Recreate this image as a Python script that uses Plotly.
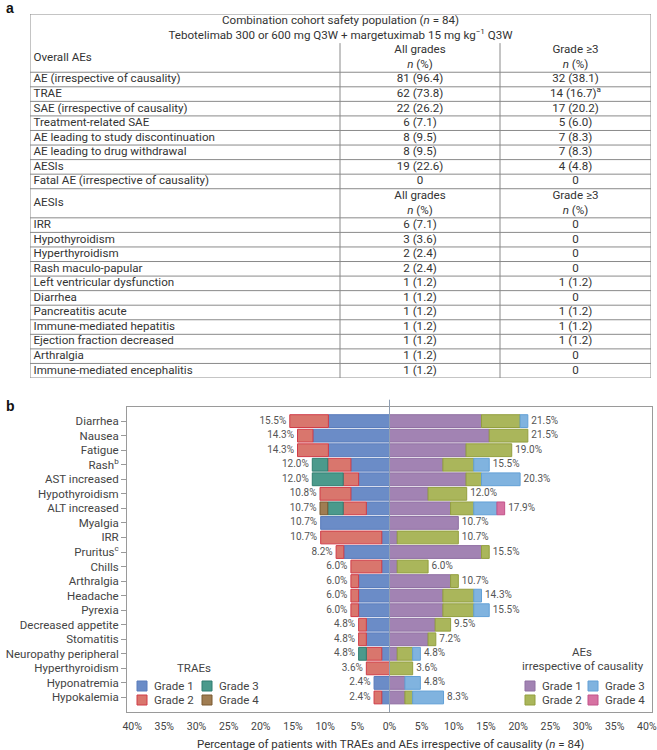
import plotly.graph_objects as go

# ---------------- Table data (panel a) ----------------
table_title = ("Combination cohort safety population (<i>n</i> = 84)<br>"
               "Tebotelimab 300 or 600 mg Q3W + margetuximab 15 mg kg<sup>−1</sup> Q3W")
col_header_all = "All grades<br><i>n</i> (%)"
col_header_g3 = "Grade ≥3<br><i>n</i> (%)"

overall_header = "Overall AEs"
overall_labels = ["AE (irrespective of causality)", "TRAE", "SAE (irrespective of causality)",
                  "Treatment-related SAE", "AE leading to study discontinuation",
                  "AE leading to drug withdrawal", "AESIs", "Fatal AE (irrespective of causality)"]
overall_all = ["81 (96.4)", "62 (73.8)", "22 (26.2)", "6 (7.1)", "8 (9.5)", "8 (9.5)", "19 (22.6)", "0"]
overall_g3 = ["32 (38.1)", "14 (16.7)<sup>a</sup>", "17 (20.2)", "5 (6.0)", "7 (8.3)", "7 (8.3)", "4 (4.8)", "0"]

aesi_header = "AESIs"
aesi_labels = ["IRR", "Hypothyroidism", "Hyperthyroidism", "Rash maculo-papular",
               "Left ventricular dysfunction", "Diarrhea", "Pancreatitis acute",
               "Immune-mediated hepatitis", "Ejection fraction decreased", "Arthralgia",
               "Immune-mediated encephalitis"]
aesi_all = ["6 (7.1)", "3 (3.6)", "2 (2.4)", "2 (2.4)", "1 (1.2)", "1 (1.2)", "1 (1.2)",
            "1 (1.2)", "1 (1.2)", "1 (1.2)", "1 (1.2)"]
aesi_g3 = ["0", "0", "0", "0", "1 (1.2)", "0", "1 (1.2)", "1 (1.2)", "1 (1.2)", "0", "0"]

# ---------------- Chart data (panel b) ----------------
categories = ["Diarrhea", "Nausea", "Fatigue", "Rash<sup>b</sup>", "AST increased", "Hypothyroidism",
              "ALT increased", "Myalgia", "IRR", "Pruritus<sup>c</sup>", "Chills", "Arthralgia",
              "Headache", "Pyrexia", "Decreased appetite", "Stomatitis", "Neuropathy peripheral",
              "Hyperthyroidism", "Hyponatremia", "Hypokalemia"]

trae_g1 = [9.5, 11.9, 9.5, 6.0, 4.8, 6.0, 3.6, 10.7, 1.2, 7.1, 1.2, 4.8, 4.8, 4.8, 3.6, 3.6, 1.2, 0, 2.4, 1.2]
trae_g2 = [6.0, 2.4, 4.8, 3.6, 2.4, 4.8, 3.6, 0, 9.5, 1.2, 4.8, 1.2, 1.2, 1.2, 1.2, 1.2, 2.4, 3.6, 0, 1.2]
trae_g3 = [0, 0, 0, 2.4, 4.8, 0, 2.4, 0, 0, 0, 0, 0, 0, 0, 0, 0, 1.2, 0, 0, 0]
trae_g4 = [0, 0, 0, 0, 0, 0, 1.2, 0, 0, 0, 0, 0, 0, 0, 0, 0, 0, 0, 0, 0]
trae_labels = ["15.5%", "14.3%", "14.3%", "12.0%", "12.0%", "10.8%", "10.7%", "10.7%", "10.7%", "8.2%",
               "6.0%", "6.0%", "6.0%", "6.0%", "4.8%", "4.8%", "4.8%", "3.6%", "2.4%", "2.4%"]

ae_g1 = [14.3, 15.5, 11.9, 8.3, 11.9, 6.0, 9.5, 10.7, 1.2, 14.3, 1.2, 9.5, 8.3, 8.3, 7.1, 6.0, 1.2, 0, 2.4, 2.4]
ae_g2 = [6.0, 6.0, 7.1, 4.8, 2.4, 6.0, 3.6, 0, 9.5, 1.2, 4.8, 1.2, 4.8, 4.8, 2.4, 1.2, 2.4, 3.6, 0, 1.2]
ae_g3 = [1.2, 0, 0, 2.4, 6.0, 0, 3.6, 0, 0, 0, 0, 0, 1.2, 2.4, 0, 0, 1.2, 0, 2.4, 4.8]
ae_g4 = [0, 0, 0, 0, 0, 0, 1.2, 0, 0, 0, 0, 0, 0, 0, 0, 0, 0, 0, 0, 0]
ae_labels = ["21.5%", "21.5%", "19.0%", "15.5%", "20.3%", "12.0%", "17.9%", "10.7%", "10.7%", "15.5%",
             "6.0%", "10.7%", "14.3%", "15.5%", "9.5%", "7.2%", "4.8%", "3.6%", "4.8%", "8.3%"]

x_tick_values = [-40, -35, -30, -25, -20, -15, -10, -5, 0, 5, 10, 15, 20, 25, 30, 35, 40]
x_tick_labels = ["40%", "35%", "30%", "25%", "20%", "15%", "10%", "5%", "0%", "5%", "10%",
                 "15%", "20%", "25%", "30%", "35%", "40%"]
grade_names = ["Grade 1", "Grade 2", "Grade 3", "Grade 4"]

# ---------------- Styles ----------------
W, H = 657, 750
FONT = "Roboto"
TXT = "#333333"
trae_fill = ["#6b8cc7", "#d9766d", "#4b9a8c", "#a07d52"]
trae_line = ["#5a7cbc", "#d03c48", "#2f7d70", "#7a5a30"]
ae_fill = ["#a283b3", "#aab65b", "#80b3df", "#d672a2"]
ae_line = ["#9070a3", "#939f3f", "#62a0d6", "#c2528a"]


def px(x):
    return x / W


def py(y):
    return 1 - y / H


fig = go.Figure()

# ---------------- Table (drawn on its own axes) ----------------
row_heights = [2, 2] + [1] * len(overall_labels) + [2] + [1] * len(aesi_labels)
tops = [0]
for h in row_heights:
    tops.append(tops[-1] + h)
centers = [(tops[i] + tops[i + 1]) / 2 for i in range(len(row_heights))]
TW = 621
COL1, COL2 = 310, 470

lab_y = [centers[1]] + centers[2:2 + len(overall_labels)] + [centers[2 + len(overall_labels)]] + \
        centers[3 + len(overall_labels):]
lab_txt = [overall_header] + overall_labels + [aesi_header] + aesi_labels
all_txt = [col_header_all] + overall_all + [col_header_all] + aesi_all
g3_txt = [col_header_g3] + overall_g3 + [col_header_g3] + aesi_g3

tfont = dict(family=FONT, size=11.6, color=TXT)
fig.add_trace(go.Scatter(x=[3.5] * len(lab_txt), y=lab_y, text=lab_txt, mode="text",
                         textposition="middle right", textfont=tfont, xaxis="x2", yaxis="y2",
                         showlegend=False, hoverinfo="skip"))
fig.add_trace(go.Scatter(x=[(COL1 + COL2) / 2] * len(all_txt), y=lab_y, text=all_txt, mode="text",
                         textposition="middle center", textfont=tfont, xaxis="x2", yaxis="y2",
                         showlegend=False, hoverinfo="skip"))
fig.add_trace(go.Scatter(x=[(COL2 + TW) / 2] * len(g3_txt), y=lab_y, text=g3_txt, mode="text",
                         textposition="middle center", textfont=tfont, xaxis="x2", yaxis="y2",
                         showlegend=False, hoverinfo="skip"))
fig.add_trace(go.Scatter(x=[TW / 2], y=[centers[0]], text=[table_title],
                         mode="text", textposition="middle center", textfont=tfont,
                         xaxis="x2", yaxis="y2", showlegend=False, hoverinfo="skip"))

shapes = []
grid = dict(color="#8a8a8a", width=1)
for i, t in enumerate(tops):
    if i == 1:
        continue  # title row spans two text lines, no line between them
    shapes.append(dict(type="line", xref="x2", yref="y2", x0=0, x1=TW, y0=t, y1=t, line=grid))
for xv, y0 in [(0, 0), (TW, 0), (COL1, 2), (COL2, 2)]:
    shapes.append(dict(type="line", xref="x2", yref="y2", x0=xv, x1=xv, y0=y0, y1=tops[-1], line=grid))

# ---------------- Diverging stacked bars ----------------
def neg(vals):
    return [-v if v else None for v in vals]


def pos(vals):
    return [v if v else None for v in vals]


for k, vals in enumerate([trae_g1, trae_g2, trae_g3, trae_g4]):
    fig.add_trace(go.Bar(y=categories, x=neg(vals), orientation="h", name="TRAE " + grade_names[k],
                         marker=dict(color=trae_fill[k], line=dict(color=trae_line[k], width=1)),
                         showlegend=False, hoverinfo="skip"))
for k, vals in enumerate([ae_g1, ae_g2, ae_g3, ae_g4]):
    fig.add_trace(go.Bar(y=categories, x=pos(vals), orientation="h", name="AE " + grade_names[k],
                         marker=dict(color=ae_fill[k], line=dict(color=ae_line[k], width=1)),
                         showlegend=False, hoverinfo="skip"))

trae_tot = [-(a + b + c + d) for a, b, c, d in zip(trae_g1, trae_g2, trae_g3, trae_g4)]
ae_tot = [(a + b + c + d) for a, b, c, d in zip(ae_g1, ae_g2, ae_g3, ae_g4)]
lfont = dict(family=FONT, size=10, color="#555555")
ghost = dict(size=4, color="rgba(0,0,0,0)")
fig.add_trace(go.Scatter(x=trae_tot, y=categories, text=trae_labels, mode="markers+text", marker=ghost,
                         textposition="middle left", textfont=lfont, showlegend=False, hoverinfo="skip"))
fig.add_trace(go.Scatter(x=ae_tot, y=categories, text=ae_labels, mode="markers+text", marker=ghost,
                         textposition="middle right", textfont=lfont, showlegend=False, hoverinfo="skip"))

# centre line
shapes.append(dict(type="line", xref="x", yref="y domain", x0=0, x1=0, y0=0, y1=1.024,
                   line=dict(color="#8f9fb3", width=1), layer="above"))

# ---------------- Manual legends ----------------
annotations = []
SW = 10


def legend_item(x, y, fill, line, label):
    shapes.append(dict(type="rect", xref="paper", yref="paper", x0=px(x), x1=px(x + SW),
                       y0=py(y + SW / 2), y1=py(y - SW / 2), fillcolor=fill,
                       line=dict(color=line, width=1)))
    annotations.append(dict(x=px(x + SW + 5), y=py(y), xref="paper", yref="paper", text=label,
                            showarrow=False, xanchor="left", yanchor="middle",
                            font=dict(family=FONT, size=11.5, color="#444444")))


annotations.append(dict(x=px(194), y=py(668), xref="paper", yref="paper", text="TRAEs", showarrow=False,
                        xanchor="center", yanchor="middle", font=dict(family=FONT, size=11.5, color="#444444")))
trae_pos = [(137, 686), (137, 700), (202, 686), (202, 700)]
for k in range(4):
    legend_item(trae_pos[k][0], trae_pos[k][1], trae_fill[k], trae_line[k], grade_names[k])

annotations.append(dict(x=px(582), y=py(652), xref="paper", yref="paper", text="AEs", showarrow=False,
                        xanchor="center", yanchor="middle", font=dict(family=FONT, size=11.5, color="#444444")))
annotations.append(dict(x=px(583), y=py(666), xref="paper", yref="paper", text="irrespective of causality",
                        showarrow=False, xanchor="center", yanchor="middle",
                        font=dict(family=FONT, size=11.5, color="#444444")))
ae_pos = [(525, 686), (525, 700), (588, 686), (588, 700)]
for k in range(4):
    legend_item(ae_pos[k][0], ae_pos[k][1], ae_fill[k], ae_line[k], grade_names[k])

# panel labels
for lbl, yy in [("a", 8), ("b", 406)]:
    annotations.append(dict(x=px(4), y=py(yy), xref="paper", yref="paper", text="<b>%s</b>" % lbl,
                            showarrow=False, xanchor="left", yanchor="middle",
                            font=dict(family="Liberation Sans", size=14, color="#111111")))

# x-axis title
annotations.append(dict(x=px(390), y=py(744), xref="paper", yref="paper",
                        text="Percentage of patients with TRAEs and AEs irrespective of causality (<i>n</i> = 84)",
                        showarrow=False, xanchor="center", yanchor="middle",
                        font=dict(family=FONT, size=11.5, color=TXT)))

fig.update_layout(
    width=W, height=H,
    margin=dict(l=0, r=0, t=0, b=0),
    paper_bgcolor="white", plot_bgcolor="white",
    font=dict(family=FONT, color=TXT),
    barmode="relative", bargap=0.12,
    showlegend=False,
    shapes=shapes, annotations=annotations,
    xaxis=dict(domain=[px(127), px(652)], range=[-40.8, 40.8], tickvals=x_tick_values,
               ticktext=x_tick_labels, showline=True, mirror=True, linecolor="#9a9a9a", linewidth=1,
               ticks="", showgrid=False, zeroline=False, automargin=False, fixedrange=True,
               ticklabelstandoff=4,
               tickfont=dict(family=FONT, size=10.5, color="#444444")),
    yaxis=dict(domain=[py(712), py(407)], type="category", range=[20.0, -0.97],
               showline=True, mirror=True, linecolor="#9a9a9a", linewidth=1,
               ticks="outside", ticklen=5, tickcolor="#9a9a9a", showgrid=False, zeroline=False,
               automargin=False, fixedrange=True,
               tickfont=dict(family=FONT, size=11.5, color="#444444")),
    xaxis2=dict(domain=[px(30), px(651)], range=[0, TW], visible=False, fixedrange=True),
    yaxis2=dict(domain=[py(378), py(14)], range=[tops[-1], 0], visible=False, fixedrange=True),
)

fig.write_html("out.html", config={"displayModeBar": False},
               post_script="document.body.style.margin='0';document.body.style.overflow='hidden';")
